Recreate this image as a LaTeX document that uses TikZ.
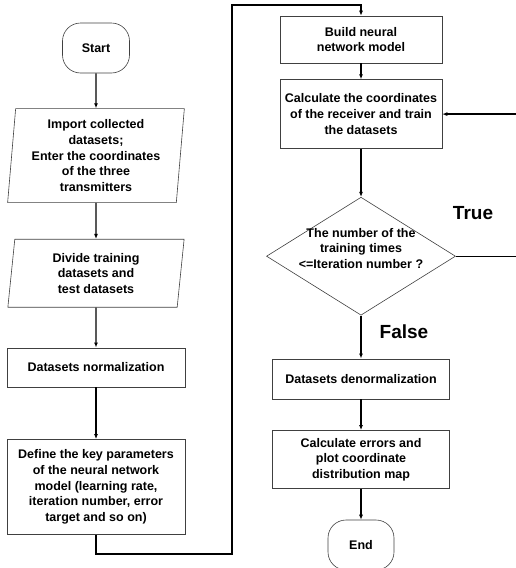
\documentclass[tikz,border=0pt]{standalone}
\usepackage{fontspec}
\setmainfont{Liberation Sans}
\usetikzlibrary{positioning,shapes.geometric,arrows.meta}

\begin{document}
\begin{tikzpicture}[x=1pt, y=1pt, node distance=30pt,
BoxStyle/.style={draw=black!75, line width=0.6pt, align=center,
                font=\fontsize{12.5}{15.6}\selectfont\bfseries, inner sep=2pt},
TermStyle/.style={BoxStyle, rounded corners=18pt, minimum width=67pt,
                minimum height=50pt},
ProcStyle/.style={BoxStyle, rectangle, minimum width=178pt},
DataStyle/.style={BoxStyle, trapezium, trapezium left angle=85,
                trapezium right angle=95, trapezium stretches=true,
                minimum width=177pt},
TestStyle/.style={BoxStyle, diamond, minimum width=189pt,
                minimum height=118pt, inner sep=0pt},
LabelStyle/.style={font=\fontsize{19}{22}\selectfont\bfseries, inner sep=0pt},
ArrowStyle/.style={-{Latex[length=5pt,width=4pt]}, line width=1.4pt},]
\useasboundingbox (0,0) rectangle (516,-568);
\clip (0,0) rectangle (516,-568);
% left column
\node [TermStyle] (start) at (96,-48) {Start};
\node [DataStyle, minimum height=94pt, below=35pt of start] (import)
      {Import collected\\datasets;\\Enter the coordinates\\of the three\\transmitters};
\node [DataStyle, minimum height=68pt, below=36pt of import] (divide)
      {Divide training\\datasets and\\test datasets};
\node [ProcStyle, minimum height=39pt, below=40pt of divide] (norm)
      {Datasets normalization};
\node [ProcStyle, minimum height=95pt, below=52pt of norm] (define)
      {Define the key parameters\\of the neural network\\model (learning rate,\\iteration number, error\\target and so on)};
% right column
\node [ProcStyle, minimum width=162pt, minimum height=47pt] (build) at (361,-39.5)
      {Build neural\\network model};
\node [ProcStyle, minimum width=162pt, minimum height=69pt, below=16pt of build] (calc)
      {Calculate the coordinates\\of the receiver and train\\the datasets};
\node [TestStyle, below=48pt of calc] (test) {};
\node [BoxStyle, draw=none, yshift=8pt] (testtext) at (test)
      {The number of the\\training times\\<=Iteration number ?};
\node [ProcStyle, minimum width=177pt, minimum height=40pt, below=43pt of test] (denorm)
      {Datasets denormalization};
\node [ProcStyle, minimum width=177pt, minimum height=58pt, below=31pt of denorm] (errors)
      {Calculate errors and\\plot coordinate\\distribution map};
\node [TermStyle, minimum width=66pt, below=31pt of errors] (end) {End};
\node [LabelStyle] (truelbl) at (473,-213) {True};
\node [LabelStyle] (falselbl) at (404,-332) {False};
% connectors
\coordinate (lowturn) at (232,-554);
\coordinate (topturn) at (232,-5);
\coordinate (loopturn) at (524,-190);
\draw [ArrowStyle] (start) -- (import);
\draw [ArrowStyle] (import) -- (divide);
\draw [ArrowStyle] (divide) -- (norm);
\draw [ArrowStyle] (norm) -- (define);
\draw [ArrowStyle] (define.south) |- (lowturn) -- (topturn) -| (build.north);
\draw [ArrowStyle] (build) -- (calc);
\draw [ArrowStyle] (calc) -- (test);
\draw [ArrowStyle] (test.east) -| (loopturn) |- (calc.east);
\draw [ArrowStyle] (test) -- (denorm);
\draw [ArrowStyle] (denorm) -- (errors);
\draw [ArrowStyle] (errors) -- (end);
\end{tikzpicture}
\end{document}
